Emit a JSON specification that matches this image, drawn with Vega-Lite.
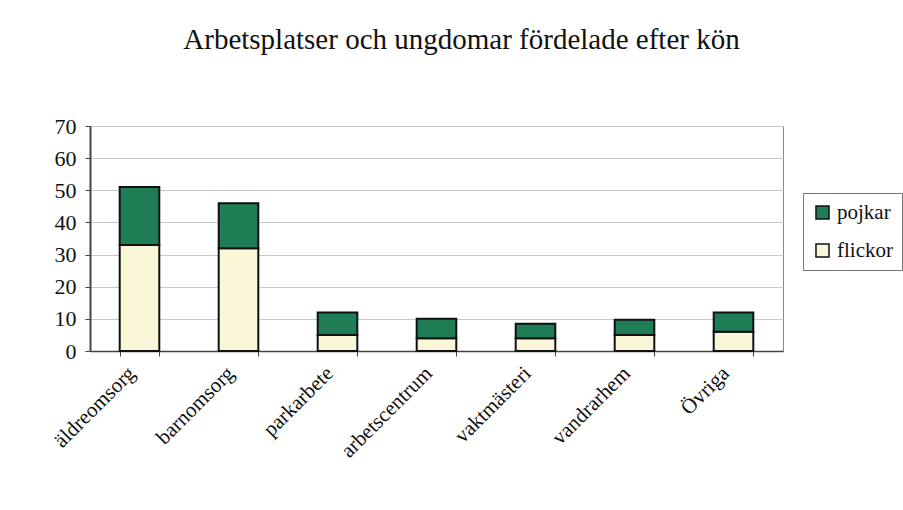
{
  "$schema": "https://vega.github.io/schema/vega-lite/v6.json",
  "autosize": {"type": "none"},
  "width": 693,
  "height": 225,
  "padding": {"left": 90, "top": 126, "right": 120, "bottom": 159},
  "background": "white",
  "title": {
    "text": "Arbetsplatser och ungdomar fördelade efter kön",
    "font": "Liberation Serif",
    "fontSize": 29,
    "fontWeight": "normal",
    "color": "#111",
    "anchor": "middle",
    "dx": 25,
    "offset": 60
  },
  "data": {
    "values": [
      {"plats": "äldreomsorg", "kon": "flickor", "antal": 33},
      {"plats": "äldreomsorg", "kon": "pojkar", "antal": 18},
      {"plats": "barnomsorg", "kon": "flickor", "antal": 32},
      {"plats": "barnomsorg", "kon": "pojkar", "antal": 14},
      {"plats": "parkarbete", "kon": "flickor", "antal": 5},
      {"plats": "parkarbete", "kon": "pojkar", "antal": 7},
      {"plats": "arbetscentrum", "kon": "flickor", "antal": 4},
      {"plats": "arbetscentrum", "kon": "pojkar", "antal": 6},
      {"plats": "vaktmästeri", "kon": "flickor", "antal": 4},
      {"plats": "vaktmästeri", "kon": "pojkar", "antal": 4.5},
      {"plats": "vandrarhem", "kon": "flickor", "antal": 5},
      {"plats": "vandrarhem", "kon": "pojkar", "antal": 4.7},
      {"plats": "Övriga", "kon": "flickor", "antal": 6},
      {"plats": "Övriga", "kon": "pojkar", "antal": 6}
    ]
  },
  "mark": {"type": "bar", "stroke": "#111", "strokeWidth": 2},
  "encoding": {
    "x": {
      "field": "plats",
      "type": "nominal",
      "sort": null,
      "title": null,
      "scale": {"paddingInner": 0.6, "paddingOuter": 0.3},
      "axis": {
        "labelAngle": -45,
        "labelAlign": "right",
        "labelBaseline": "middle",
        "labelFont": "Liberation Serif",
        "labelFontSize": 21,
        "labelColor": "#111",
        "labelPadding": 14,
        "tickBand": "extent",
        "tickSize": 5,
        "tickColor": "#444",
        "domainColor": "#444",
        "domainWidth": 1.5,
        "labelOffset": -8
      }
    },
    "y": {
      "field": "antal",
      "type": "quantitative",
      "stack": "zero",
      "title": null,
      "scale": {"domain": [0, 70]},
      "axis": {
        "values": [0, 10, 20, 30, 40, 50, 60, 70],
        "labelFont": "Liberation Serif",
        "labelFontSize": 22,
        "labelColor": "#111",
        "labelPadding": 9,
        "tickSize": 5,
        "tickColor": "#444",
        "domainColor": "#444",
        "domainWidth": 2,
        "gridColor": "#c8c8c8",
        "gridWidth": 1
      }
    },
    "color": {
      "field": "kon",
      "type": "nominal",
      "title": null,
      "scale": {"domain": ["pojkar", "flickor"], "range": ["#1e7d55", "#faf7d8"]},
      "legend": {
        "orient": "none",
        "legendX": 713,
        "legendY": 67,
        "symbolType": "square",
        "symbolSize": 170,
        "symbolStrokeColor": "#111",
        "symbolStrokeWidth": 1.5,
        "labelFont": "Liberation Serif",
        "labelFontSize": 21,
        "labelColor": "#111",
        "labelOffset": 4,
        "rowPadding": 16,
        "padding": 9,
        "strokeColor": "#777",
        "fillColor": "white"
      }
    },
    "order": {"field": "kon", "sort": "ascending"}
  },
  "config": {
    "view": {"stroke": "#888", "strokeWidth": 1}
  }
}
